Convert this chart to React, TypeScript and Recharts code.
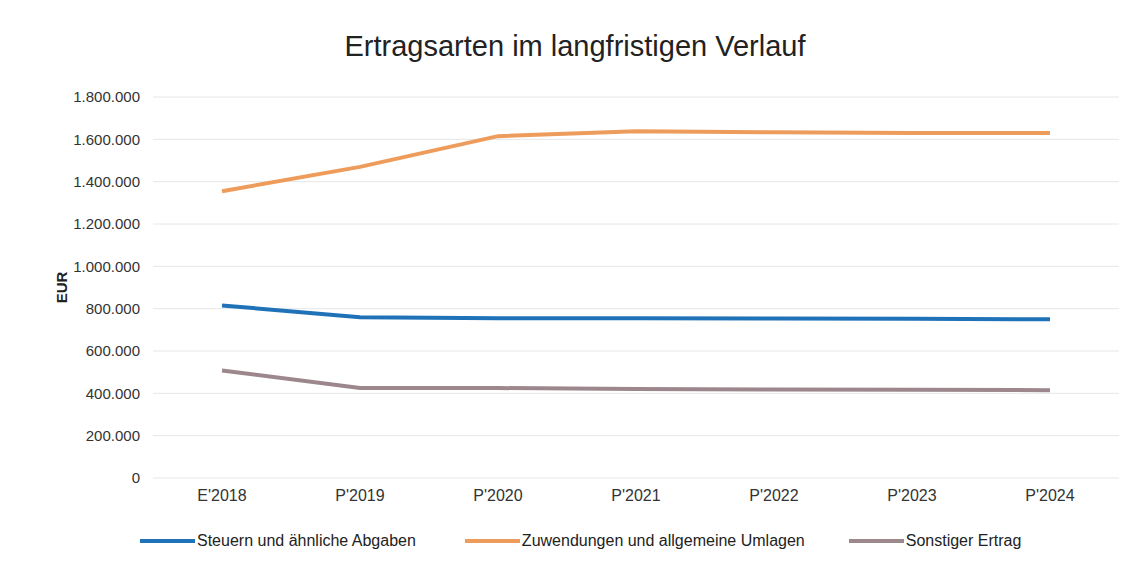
import { LineChart, Line, XAxis, YAxis, CartesianGrid, Label } from 'recharts'

// ─── Data ──────────────────────────────────────────────────────────────────

const years = ["E'2018", "P'2019", "P'2020", "P'2021", "P'2022", "P'2023", "P'2024"]

const steuern = [815000, 760000, 755000, 755000, 753000, 752000, 750000]
const zuwendungen = [1355000, 1470000, 1615000, 1638000, 1633000, 1630000, 1630000]
const sonstiger = [508000, 425000, 425000, 420000, 418000, 417000, 415000]

const yTicks = [0, 200000, 400000, 600000, 800000, 1000000, 1200000, 1400000, 1600000, 1800000]

const series = [
  { key: 'steuern', name: 'Steuern und ähnliche Abgaben', color: '#1F72B8' },
  { key: 'zuwendungen', name: 'Zuwendungen und allgemeine Umlagen', color: '#EE9C5C' },
  { key: 'sonstiger', name: 'Sonstiger Ertrag', color: '#9C878D' },
]

const chartData = years.map((year, i) => ({
  year,
  steuern: steuern[i],
  zuwendungen: zuwendungen[i],
  sonstiger: sonstiger[i],
}))

const FONT = '"Liberation Sans", Arial, sans-serif'
const formatEUR = (v: number) => v.toLocaleString('de-DE')

export default function App() {
  return (
    <div style={{
      position: 'absolute', left: 0, top: 0, width: 1135, height: 568,
      background: '#fff', fontFamily: FONT,
    }}>
      {/* Title */}
      <div style={{
        position: 'absolute', left: 0, top: 30, width: 1150, textAlign: 'center',
        fontSize: 29, color: '#222',
      }}>
        Ertragsarten im langfristigen Verlauf
      </div>

      <LineChart
        width={1135}
        height={568}
        data={chartData}
        margin={{ top: 97, right: 16, left: 63, bottom: 60 }}
      >
        <CartesianGrid vertical={false} stroke="#E6E6E6" />
        <XAxis
          dataKey="year"
          height={30}
          padding={{ left: 69, right: 69 }}
          axisLine={false}
          tickLine={false}
          tickSize={0}
          tickMargin={12}
          interval={0}
          tick={{ fill: '#333', fontSize: 16, fontFamily: FONT }}
        />
        <YAxis
          width={90}
          domain={[0, 1800000]}
          ticks={yTicks}
          tickFormatter={formatEUR}
          axisLine={false}
          tickLine={false}
          tickSize={0}
          tickMargin={13}
          tick={{ fill: '#333', fontSize: 15, fontFamily: FONT }}
        >
          <Label
            value="EUR"
            angle={-90}
            position="insideLeft"
            offset={-1}
            style={{ fill: '#222', fontSize: 15, fontWeight: 'bold', fontFamily: FONT, textAnchor: 'middle' }}
          />
        </YAxis>
        {series.map(s => (
          <Line
            key={s.key}
            type="linear"
            dataKey={s.key}
            name={s.name}
            stroke={s.color}
            strokeWidth={4}
            dot={false}
            activeDot={false}
            isAnimationActive={false}
          />
        ))}
      </LineChart>

      {/* Legend */}
      <div style={{
        position: 'absolute', left: 140, top: 532, display: 'flex', alignItems: 'center',
        fontSize: 16, color: '#222',
      }}>
        {series.map((s, i) => (
          <div key={s.key} style={{ display: 'flex', alignItems: 'center', marginRight: i === 0 ? 49 : i === 1 ? 44 : 0 }}>
            <span style={{ display: 'inline-block', width: 55, height: 4, background: s.color, marginRight: 2 }} />
            {s.name}
          </div>
        ))}
      </div>
    </div>
  )
}
